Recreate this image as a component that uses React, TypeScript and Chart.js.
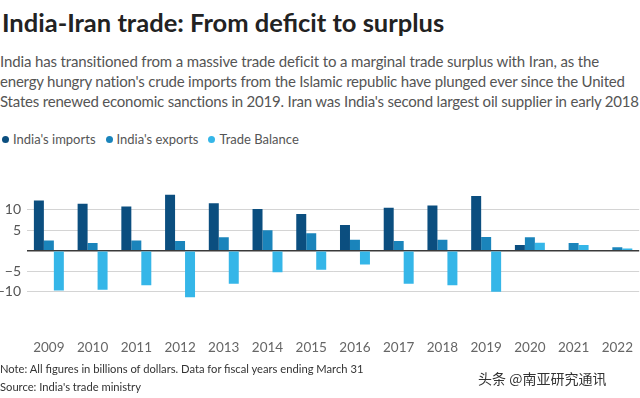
import React, { useEffect, useRef } from "react";
import { Chart, registerables } from "chart.js";

Chart.register(...registerables);

const years = ["2009", "2010", "2011", "2012", "2013", "2014", "2015", "2016", "2017", "2018", "2019", "2020", "2021", "2022"];
const imports = [12.3, 11.5, 10.8, 13.7, 11.6, 10.2, 9.0, 6.3, 10.5, 11.1, 13.4, 1.4, 0.2, 0.2];
const exportsVals = [2.5, 1.9, 2.5, 2.4, 3.3, 5.0, 4.3, 2.7, 2.4, 2.7, 3.4, 3.3, 1.9, 0.9];
const balance = [-9.7, -9.5, -8.4, -11.3, -8.0, -5.2, -4.6, -3.3, -8.0, -8.4, -10.0, 2.0, 1.4, 0.6];
const yTickLabels = [10, 5, -5, -10];

const seriesNames = ["India's imports", "India's exports", "Trade Balance"];
const seriesColors = ["#0b4e7f", "#1a84bb", "#35b6e8"];

const FONT = "Lato, 'Open Sans', sans-serif";

function BarChart() {
  const ref = useRef<HTMLCanvasElement | null>(null);
  useEffect(() => {
    if (!ref.current) return;
    const chart = new Chart(ref.current, {
      type: "bar",
      data: {
        labels: years,
        datasets: [imports, exportsVals, balance].map((d, i) => ({
          label: seriesNames[i],
          data: d,
          backgroundColor: seriesColors[i],
          borderWidth: 0,
          barPercentage: 1,
          categoryPercentage: 0.685,
        })),
      },
      options: {
        animation: false,
        responsive: false,
        maintainAspectRatio: false,
        layout: { padding: { top: 14, right: 0, left: 0, bottom: 0 } },
        plugins: { legend: { display: false }, tooltip: { enabled: false } },
        scales: {
          x: {
            grid: { display: false, drawTicks: false },
            border: { display: false },
            ticks: { color: "#666", font: { family: FONT, size: 13.5 }, padding: 7 },
          },
          y: {
            min: -20,
            max: 15,
            afterFit: (s: any) => { s.width = 27; },
            border: { display: false },
            grid: {
              drawTicks: false,
              color: (c: any) => {
                const v = c.tick?.value;
                if (v === 0) return "#3a3a3a";
                return yTickLabels.includes(v) ? "#d4d4d4" : "rgba(0,0,0,0)";
              },
              lineWidth: (c: any) => (c.tick?.value === 0 ? 1.5 : 1),
            },
            ticks: {
              stepSize: 5,
              autoSkip: false,
              padding: 6,
              color: "#555",
              font: { family: FONT, size: 14 },
              callback: (v: any) => (yTickLabels.includes(v) ? String(v).replace("-", "\u2212") : ""),
            },
          },
        },
      },
    });
    return () => chart.destroy();
  }, []);
  return <canvas ref={ref} width={640} height={188} style={{ position: "absolute", left: 0, top: 175, width: 640, height: 188 }} />;
}

export default function App() {
  useEffect(() => {
    document.body.style.margin = "0";
  }, []);
  const sub: React.CSSProperties = { position: "absolute", left: 0, fontSize: 15, color: "#555", whiteSpace: "nowrap", fontFamily: FONT, letterSpacing: -0.2 };
  return (
    <div style={{ position: "relative", width: 640, height: 398, background: "#fff", overflow: "hidden", fontFamily: FONT }}>
      <div style={{ position: "absolute", left: 2, top: 7, fontSize: 25.5, fontWeight: 700, color: "#222", whiteSpace: "nowrap" }}>
        India-Iran trade: From deficit to surplus
      </div>
      <div style={{ ...sub, top: 52, letterSpacing: -0.14 }}>India has transitioned from a massive trade deficit to a marginal trade surplus with Iran, as the</div>
      <div style={{ ...sub, top: 72 }}>energy hungry nation's crude imports from the Islamic republic have plunged ever since the United</div>
      <div style={{ ...sub, top: 92 }}>States renewed economic sanctions in 2019. Iran was India's second largest oil supplier in early 2018</div>
      <div style={{ position: "absolute", left: 0, top: 131, fontSize: 13, color: "#555", display: "flex", whiteSpace: "nowrap" }}>
        {seriesNames.map((n, i) => (
          <span key={n} style={{ display: "flex", alignItems: "center", marginRight: 8 }}>
            <span style={{ display: "inline-block", width: 7, height: 7, borderRadius: 4, background: seriesColors[i], margin: "0 4px 0 2px" }} />
            {n}
          </span>
        ))}
      </div>
      <BarChart />
      <div style={{ position: "absolute", left: 0, top: 362, fontSize: 11.2, color: "#333", whiteSpace: "nowrap" }}>
        Note: All figures in billions of dollars. Data for fiscal years ending March 31
      </div>
      <div style={{ position: "absolute", left: 0, top: 380, fontSize: 11.2, color: "#333", whiteSpace: "nowrap" }}>Source: India's trade ministry</div>
      <div style={{ position: "absolute", left: 478, top: 368, fontSize: 14, color: "#333", whiteSpace: "nowrap", fontFamily: "'Noto Sans CJK SC', sans-serif" }}>
        头条 @南亚研究通讯
      </div>
    </div>
  );
}
